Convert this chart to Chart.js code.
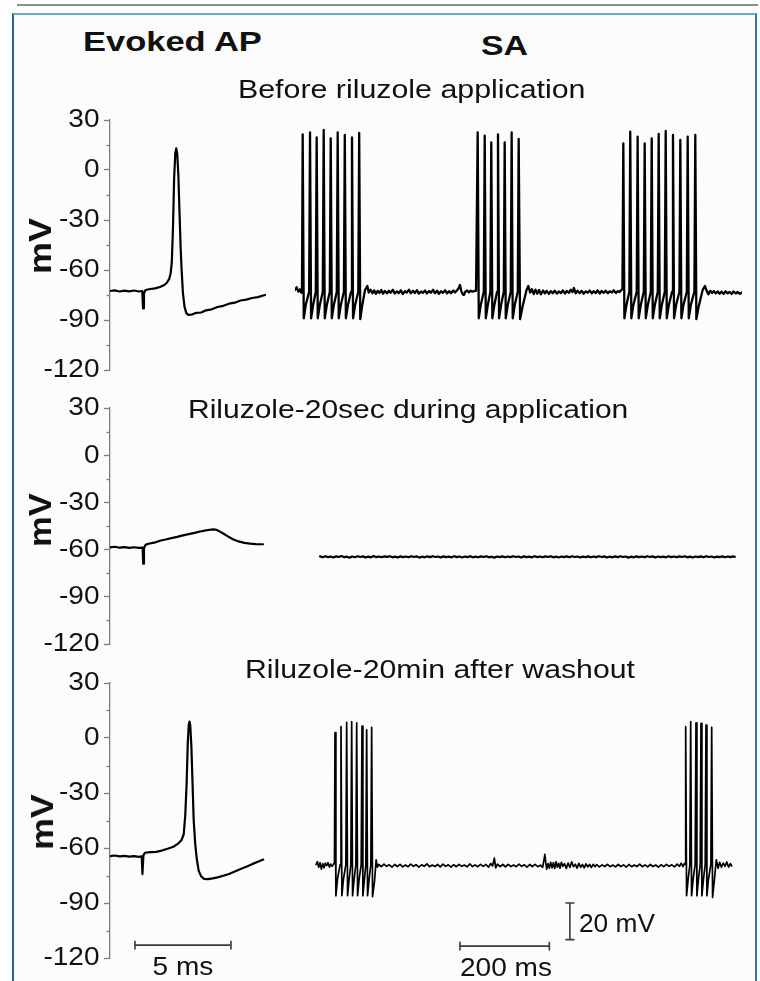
<!DOCTYPE html>
<html>
<head>
<meta charset="utf-8">
<title>Evoked AP and SA - riluzole</title>
<script src="https://cdn.jsdelivr.net/npm/chart.js@4.4.1/dist/chart.umd.min.js"></script>
<style>
  html, body { margin: 0; padding: 0; background: #fff; }
  body {
    width: 760px; height: 981px; position: relative; overflow: hidden;
    font-family: "Liberation Sans", Arial, sans-serif; color: #111;
  }
  .rule { position: absolute; left: 17px; top: 4px; width: 741px; height: 2px; background: #8c8c8c; }
  .frame {
    position: absolute; left: 12px; top: 13px; width: 741px; height: 990px;
    border-top: 2px solid #7aa5c1; border-left: 2px solid #236391; border-right: 2px solid #2f73a6;
    background: #fcfcfc;
  }
  canvas { position: absolute; }
  .txt { position: absolute; white-space: nowrap; line-height: 1; transform-origin: 0 0; z-index: 2; }
  .bold { font-weight: bold; }
  .ylab { position: absolute; white-space: nowrap; line-height: 1; font-weight: bold; font-size: 32px; z-index: 2; }
</style>
</head>
<body>
<div class="rule"></div>
<div class="frame"></div>

<div class="txt bold" style="left:83px;top:27px;font-size:28.5px;transform:scaleX(1.21)">Evoked AP</div>
<div class="txt bold" style="left:481px;top:31px;font-size:28.5px;transform:scaleX(1.19)">SA</div>

<div class="txt" style="left:238px;top:76.5px;font-size:25.5px;transform:scaleX(1.19)">Before riluzole application</div>
<div class="txt" style="left:188px;top:397px;font-size:25px;transform:scaleX(1.2)">Riluzole-20sec during application</div>
<div class="txt" style="left:245px;top:656.5px;font-size:25.5px;transform:scaleX(1.186)">Riluzole-20min after washout</div>

<div class="ylab" style="left:40px;top:246px;transform:translate(-50%,-50%) rotate(-90deg) scaleX(1.12)">mV</div>
<div class="ylab" style="left:40px;top:520px;transform:translate(-50%,-50%) rotate(-90deg) scaleX(1.08)">mV</div>
<div class="ylab" style="left:42px;top:822px;transform:translate(-50%,-50%) rotate(-90deg) scaleX(1.12)">mV</div>

<div class="txt" style="left:182.5px;top:953.5px;font-size:25.5px;transform:scaleX(1.1) translateX(-50%)">5 ms</div>
<div class="txt" style="left:506px;top:954.5px;font-size:25.5px;transform:scaleX(1.1) translateX(-50%)">200 ms</div>
<div class="txt" style="left:579px;top:911px;font-size:25.5px;transform:scaleX(1.03)">20 mV</div>

<script>
// ---------- data (time in ms, membrane potential in mV) ----------

const yMajorTicks = [30, 0, -30, -60, -90, -120];
const yMinorTicks = [15, -15, -45, -75, -105];

// Evoked action potentials (left column)
const evokedBefore = [
  [0, -72.6], [0.25, -72.2], [0.5, -72.9], [0.75, -72.4], [1.0, -72.8], [1.25, -72.3], [1.5, -72.9],
  [1.68, -72.6], [1.72, -83], [1.77, -74], [1.85, -72], [2.1, -71.4], [2.35, -71.0], [2.6, -70.2],
  [2.8, -69.2], [2.95, -67.8], [3.08, -65.5], [3.16, -62], [3.22, -55], [3.28, -35], [3.34, -5],
  [3.4, 10], [3.45, 13], [3.5, 10], [3.56, -3], [3.62, -25], [3.68, -47], [3.73, -60], [3.8, -74],
  [3.88, -82], [3.98, -86], [4.1, -87], [4.3, -86.6], [4.5, -85.7], [4.75, -85.5], [5.0, -84.2],
  [5.3, -83.6], [5.6, -82.2], [5.9, -81.5], [6.2, -80.2], [6.5, -79.6], [6.8, -78.3], [7.1, -77.8],
  [7.4, -76.8], [7.7, -76.3], [8.07, -75],
];

const evokedDuring = [
  [0, -58.6], [0.25, -58.2], [0.5, -58.8], [0.75, -58.4], [1.0, -58.9], [1.25, -58.5], [1.5, -58.9],
  [1.7, -58.7], [1.73, -69], [1.77, -59], [1.85, -57], [2.0, -56.3], [2.3, -55.6], [2.6, -54.4],
  [2.9, -53.6], [3.2, -52.7], [3.5, -51.9], [3.8, -51], [4.1, -50.2], [4.4, -49.4], [4.7, -48.5],
  [5.0, -47.8], [5.3, -47.2], [5.5, -47.3], [5.7, -48.4], [5.9, -49.8], [6.1, -51.3], [6.4, -53.4],
  [6.7, -54.8], [7.0, -55.7], [7.3, -56.2], [7.6, -56.5], [7.97, -56.6],
];

const evokedWashout = [
  [0, -64.4], [0.25, -64.1], [0.5, -64.6], [0.75, -64.3], [1.0, -64.7], [1.25, -64.4], [1.5, -64.8],
  [1.65, -64.6], [1.69, -74.2], [1.74, -64], [1.82, -62.6], [2.1, -62.3], [2.4, -62.1], [2.7, -61.4],
  [3.0, -60.4], [3.3, -59.3], [3.55, -57.6], [3.73, -55.6], [3.84, -52.5], [3.92, -42], [3.99, -25],
  [4.05, -3], [4.1, 7], [4.14, 9], [4.18, 7], [4.24, -5], [4.3, -25], [4.36, -45], [4.44, -58],
  [4.52, -66], [4.62, -72.5], [4.75, -75.5], [4.9, -76.8], [5.1, -77], [5.35, -76.6], [5.6, -76],
  [5.9, -75.1], [6.2, -74.2], [6.5, -72.8], [6.8, -71.5], [7.1, -70.2], [7.4, -68.8], [7.7, -67.5],
  [7.98, -66.3],
];

// Spontaneous activity (right column)
const saBefore = [
  [0, -72], [3.7, -70.4], [7.5, -73], [11.2, -71.6], [14, -73.5], [15.6, -73],
  [17.2, 21.4], [19.6, -89], [24, -81], [31.6, -73],
  [33.6, 22.6], [36, -89], [40.5, -81], [46.5, -73],
  [48.5, 19.6], [50.9, -89], [55.5, -81], [62.2, -73],
  [64.2, 24], [66.6, -89], [71.2, -81], [77.9, -73],
  [79.9, 19], [82.3, -89], [86.9, -81], [93.5, -73],
  [95.5, 22.6], [97.9, -89], [102.5, -81], [109.4, -73],
  [111.4, 21], [113.8, -89], [118.4, -81], [125.5, -73],
  [127.5, 19.6], [129.9, -89], [134.5, -81], [141.6, -73],
  [143.6, 22.2], [146, -89.5], [150, -82], [156.6, -72], [161.8, -69.6], [165, -73.5],
  [169, -71.8], [173, -74], [177, -72.2], [181, -74.3], [185, -72.5], [189, -73.8], [193, -72],
  [197, -74.2], [201, -72.6], [206, -74], [210, -72.4], [214, -73.6], [219, -71.9], [223, -74.1],
  [228, -72.8], [232, -73.9], [237, -72.2], [241, -74.4], [246, -72.7], [250, -73.5], [255, -71.8],
  [259, -74], [264, -72.5], [268, -73.8], [273, -72.1], [277, -74.2], [282, -72.9], [286, -73.7],
  [291, -72.3], [295, -74.1], [300, -72.6], [304, -73.6], [309, -71.9], [313, -73.9], [318, -72.4],
  [322, -74.3], [327, -72.8], [331, -73.7], [336, -72.2], [340, -74], [345, -72.7], [349, -73.9],
  [354, -72.3], [358, -73.5], [363, -72], [366, -71], [369, -69], [372, -72.5], [375, -74.5],
  [378, -75], [381, -73], [385, -72.3], [389, -73.4], [393, -72.4], [397, -73], [401, -72.6],
  [405, -72.5], [406.7, -72.5],
  [408.7, 22.6], [411.1, -89], [415.5, -81], [422.4, -73],
  [424.4, 20.6], [426.8, -89], [431.3, -81], [437.1, -73],
  [439.1, 16.6], [441.5, -89], [446, -81], [452.1, -73],
  [454.1, 21.4], [456.5, -89], [461, -81], [467.1, -73],
  [469.1, 16.6], [471.5, -89], [476, -81], [482.7, -73],
  [484.7, 22.6], [487.1, -89], [491.6, -81], [498.4, -73],
  [500.4, 18.6], [503.5, -89.5], [509, -82], [518, -72], [522, -69.6], [526, -73.5],
  [530, -71.5], [534, -74.5], [538, -71.8], [542, -74.2], [546, -72], [550, -74.6], [555, -72.3],
  [559, -74], [563, -72.5], [568, -74.3], [572, -72.7], [577, -73.9], [581, -72.4], [586, -74.2],
  [590, -72.9], [595, -73.8], [599, -72.3], [604, -74.1], [608, -72.6], [613, -73.7], [617, -71.8],
  [621, -73.2], [624, -70.8], [628, -74], [632, -72.4], [637, -73.9], [641, -72.5], [646, -74.2],
  [650, -72.8], [655, -73.6], [659, -72.3], [664, -74], [668, -72.7], [673, -73.8], [677, -72.2],
  [682, -74.1], [686, -72.6], [691, -73.7], [695, -72.4], [700, -73.9], [704, -72.8], [709, -73.5],
  [713, -72.2], [718, -73.8], [722, -72.7], [726, -73.2], [730, -72], [732.5, -71.5],
  [734.5, 16], [736.9, -89], [741.5, -81], [748, -73],
  [750, 23], [752.4, -89], [757, -81], [764.5, -73],
  [766.5, 20], [768.9, -89], [773.5, -81], [780.3, -73],
  [782.3, 16], [784.7, -89], [789.3, -81], [796, -73],
  [798, 19], [800.4, -89], [805, -81], [811.6, -73],
  [813.6, 21.6], [816, -89], [820.6, -81], [827.3, -73],
  [829.3, 23.4], [831.7, -89], [836.3, -81], [843.6, -73],
  [845.6, 21], [848, -89], [852.6, -81], [860, -73],
  [862, 18], [864.4, -89], [869, -81], [876.5, -73],
  [878.5, 20], [880.9, -89], [885.5, -81], [893.5, -73],
  [895.5, 21], [897.9, -89.5], [903, -82], [912, -72], [917, -69.6], [921, -72.5], [924.6, -74.6],
  [929, -72.5], [933, -73.8], [937, -72.6], [941, -74], [946, -72.9], [950, -74.2], [954, -73],
  [959, -74.3], [963, -72.8], [968, -74], [972, -73.1], [977, -74.4], [981, -72.9], [986, -74.1],
  [990, -73.2], [995, -74.3], [1000, -73.5],
];

const saDuring = [
  [56, -64.3], [62, -64.9], [68, -64.2], [74, -64.8], [80, -64.4], [86, -65], [92, -64.3], [98, -64.7],
  [104, -64.1], [110, -64.8], [116, -64.5], [122, -65.1], [128, -64.4], [134, -64.9], [140, -64.2],
  [146, -64.7], [152, -64.3], [158, -65], [164, -64.5], [170, -64.9], [176, -64.1], [182, -64.8],
  [188, -64.4], [194, -64.9], [200, -64.3], [206, -64.6], [212, -64.2], [218, -64.9], [224, -64.5],
  [230, -65], [236, -64.3], [242, -64.8], [248, -64.4], [254, -64.9], [260, -64.2], [266, -64.7],
  [272, -64.3], [278, -65.1], [284, -64.5], [290, -64.9], [296, -64.3], [302, -64.8], [308, -64.2],
  [314, -64.7], [320, -64.4], [326, -65], [332, -64.3], [338, -64.8], [344, -64.5], [350, -64.9],
  [356, -64.2], [362, -64.8], [368, -64.4], [374, -65], [380, -64.4], [386, -64.8], [392, -64.2],
  [398, -64.9], [404, -64.5], [410, -64.9], [416, -64.3], [422, -64.7], [428, -64.2], [434, -64.9],
  [440, -64.5], [446, -65.1], [452, -64.4], [458, -64.8], [464, -64.3], [470, -64.9], [476, -64.4],
  [482, -64.8], [488, -64.2], [494, -64.7], [500, -64.4], [506, -65], [512, -64.3], [518, -64.8],
  [524, -64.5], [530, -64.9], [536, -64.2], [542, -64.8], [548, -64.4], [554, -64.9], [560, -64.3],
  [566, -64.7], [572, -64.2], [578, -64.9], [584, -64.5], [590, -65], [596, -64.4], [602, -64.8],
  [608, -64.3], [614, -64.9], [620, -64.2], [626, -64.7], [632, -64.4], [638, -65], [644, -64.5],
  [650, -64.8], [656, -64.3], [662, -64.9], [668, -64.4], [674, -64.8], [680, -64.2], [686, -64.7],
  [692, -64.3], [698, -65], [704, -64.5], [710, -64.9], [716, -64.3], [722, -64.8], [728, -64.2],
  [734, -64.7], [740, -64.4], [746, -65.1], [752, -64.5], [758, -64.9], [764, -64.3], [770, -64.8],
  [776, -64.4], [782, -64.9], [788, -64.2], [794, -64.7], [800, -64.3], [806, -65], [812, -64.4],
  [818, -64.8], [824, -64.5], [830, -64.9], [836, -64.2], [842, -64.8], [848, -64.4], [854, -64.9],
  [860, -64.3], [866, -64.7], [872, -64.2], [878, -64.9], [884, -64.5], [890, -65], [896, -64.4],
  [902, -64.8], [908, -64.3], [914, -64.9], [920, -64.2], [926, -64.7], [932, -64.4], [938, -65],
  [944, -64.5], [950, -64.8], [956, -64.3], [962, -64.9], [968, -64.4], [974, -64.8], [980, -64.3],
  [984, -64.6],
];

const saWashout = [
  [47, -69], [50, -67.5], [53, -70.5], [56, -68], [59, -71.5], [62, -68.5], [65, -70.8], [68, -68.2],
  [71, -69.6], [74, -68], [77, -70.4], [80, -68.8], [83, -70], [86, -69], [88.3, -68],
  [89.5, 2.9], [91.5, -86], [95, -77], [101.1, -69],
  [102.9, 6.2], [104.9, -86], [108.4, -77], [113.8, -69],
  [115.6, 8.6], [117.6, -86], [121.1, -77], [125, -69],
  [126.8, 8.9], [128.8, -86], [132.3, -77], [136.2, -69],
  [138, 8.3], [140, -86], [143.5, -77], [148.1, -69],
  [149.9, 6.5], [151.9, -86], [155.4, -77], [158.5, -69],
  [160.3, 4.4], [162.3, -86], [165.8, -77], [169.7, -69],
  [171.5, 5.8], [173.5, -86.5], [178, -78], [181.5, -66.5], [184.5, -70.5], [187.5, -69],
  [193, -70.2], [199, -68.8], [205, -70], [211, -69.2], [217, -70.4], [223, -69], [229, -70.1],
  [235, -68.9], [241, -70.3], [247, -69.3], [253, -70.2], [259, -68.8], [265, -70], [271, -69.1],
  [277, -70.4], [283, -69.2], [289, -70], [295, -68.7], [301, -70.2], [307, -69.3], [313, -70.1],
  [319, -69], [325, -70.3], [331, -68.8], [337, -70], [343, -69.2], [349, -70.4], [355, -69.1],
  [361, -70.2], [367, -68.9], [373, -70], [379, -69.3], [385, -70.3], [391, -68.7], [397, -70.1],
  [403, -69.2], [409, -70.2], [415, -68.9], [421, -70], [427, -69], [433, -70.4], [438, -68.5],
  [442, -69.8], [446, -65.5], [449, -70.8], [453, -68.8], [459, -70.2], [465, -69], [471, -70.3],
  [477, -68.9], [483, -70.1], [489, -69.3], [495, -70.2], [501, -68.8], [507, -70], [513, -69.2],
  [519, -70.4], [525, -69], [531, -70.1], [537, -68.9], [543, -70.2], [549, -69.4], [554, -70.5],
  [557, -66.5], [559, -63.5], [561, -68], [563, -71.5], [566, -68.5], [569, -71], [572, -67.8],
  [575, -70.8], [578, -68], [581, -71.2], [584, -67.5], [587, -70.5], [590, -68.4], [593, -71],
  [596, -67.8], [599, -70], [603, -68.6], [607, -71.2], [611, -68.2], [615, -70.6], [619, -67.6],
  [623, -70.2], [627, -68.8], [631, -71], [635, -68.4], [639, -70.5], [643, -69], [647, -70.8],
  [651, -68.7], [655, -70.3], [659, -69], [663, -70.6], [667, -68.9], [671, -70.2], [675, -69.1],
  [681, -70.3], [687, -69.2], [693, -70.1], [699, -68.9], [705, -70.2], [711, -69.3], [717, -70.3],
  [723, -69], [729, -70.1], [735, -69.2], [741, -70.4], [747, -69], [753, -70.2], [759, -69.3],
  [765, -70.1], [771, -68.8], [777, -70.2], [783, -69.2], [789, -70.3], [795, -69], [801, -70.1],
  [807, -69.3], [813, -70.4], [819, -69.1], [825, -70.2], [831, -68.9], [837, -70], [843, -69.2],
  [849, -70.3], [855, -68.8], [860, -70], [864, -68.3], [868, -70.2], [871, -68.5], [872.5, -69],
  [874, 6.2], [876, -86], [879.5, -77], [883.4, -69],
  [885.2, 8.9], [887.2, -86], [890.7, -77], [895.2, -69],
  [897.1, 8.3], [899.1, -86], [902.6, -77], [906.5, -69],
  [908.3, 8], [910.3, -86], [913.8, -77], [917.7, -69],
  [919.5, 7.1], [921.5, -86], [925, -77], [930.4, -69],
  [932.2, 5.8], [934.2, -87], [938, -78], [942.5, -66.4], [946.5, -71], [950, -67.8], [954, -70.5],
  [958, -68.2], [962, -70], [966, -67.6], [970, -70.4], [974, -68.5], [977, -69.8],
];

// Scale bars (ends of each bar, in the units of the axis they sit on)
const bar5ms = [[1.3, -113], [6.3, -113]];
const bar200ms = [[369, -113.5], [569, -113.5]];
const bar20mV = [[615, -90], [615, -110]];

(() => {
  'use strict';

  const AXIS_GRAY = '#7d7d7d';
  const FONT = '"Liberation Sans", Arial, sans-serif';

  // page geometry of each panel: pixel rows of +30 mV and -120 mV
  const panels = [
    { evoked: evokedBefore, sa: saBefore, top: 120, bottom: 370, saWidth: 2.3 },
    { evoked: evokedDuring, sa: saDuring, top: 408, bottom: 644, saWidth: 2.2 },
    { evoked: evokedWashout, sa: saWashout, top: 683, bottom: 958, saWidth: 1.7, bars: true },
  ];

  const EVOKED = { left: 10, axisW: 100, areaW: 156, padR: 6, xMax: 156 / 19.2 };
  const SA = { left: 291, areaW: 447, pad: 4, xMax: 1000 };
  const VPAD = 18;

  const toXY = (arr) => arr.map(([x, y]) => ({ x, y }));

  // horizontal bar with vertical end caps
  function hBar(bar, cap) {
    const [[a, y], [b]] = bar;
    return [
      { x: a, y: y + cap }, { x: a, y: y - cap }, { x: a, y },
      { x: b, y }, { x: b, y: y + cap }, { x: b, y: y - cap },
    ];
  }

  // vertical bar with horizontal end caps
  function vBar(bar, cap) {
    const [[x, a], [, b]] = bar;
    return [
      { x: x - cap, y: a }, { x: x + cap, y: a }, { x, y: a },
      { x, y: b }, { x: x - cap, y: b }, { x: x + cap, y: b },
    ];
  }

  function traceSet(data, width) {
    return {
      data: toXY(data),
      borderColor: '#000',
      borderWidth: width,
      borderJoinStyle: 'round',
      borderCapStyle: 'round',
      pointRadius: 0,
      tension: 0,
    };
  }

  function barSet(points) {
    return {
      data: points,
      borderColor: '#3a3a3a',
      borderWidth: 1.6,
      pointRadius: 0,
      tension: 0,
    };
  }

  // ---------- axis labels and minor ticks ----------

  const axisDecor = {
    id: 'axisDecor',
    afterDraw(chart) {
      const s = chart.scales.y;
      const ctx = chart.ctx;
      const left = chart.chartArea.left;
      ctx.save();
      ctx.strokeStyle = AXIS_GRAY;
      ctx.lineWidth = 1.3;
      for (const v of yMinorTicks) {
        const y = Math.round(s.getPixelForValue(v)) + 0.5;
        ctx.beginPath();
        ctx.moveTo(left - 3.5, y);
        ctx.lineTo(left, y);
        ctx.stroke();
      }
      ctx.fillStyle = '#111';
      ctx.font = '25px ' + FONT;
      ctx.textAlign = 'right';
      ctx.textBaseline = 'middle';
      for (const v of yMajorTicks) {
        const y = s.getPixelForValue(v);
        ctx.save();
        ctx.translate(left - 10.5, y + 0.5);
        ctx.scale(1.12, 1);
        ctx.fillText(String(v), 0, 0);
        ctx.restore();
      }
      ctx.restore();
    },
  };

  function makeCanvas(left, top, w, h) {
    const c = document.createElement('canvas');
    c.width = w;
    c.height = h;
    c.style.left = left + 'px';
    c.style.top = top + 'px';
    document.body.appendChild(c);
    return c;
  }

  function baseOptions(padding) {
    return {
      responsive: false,
      animation: false,
      devicePixelRatio: 1,
      layout: { padding },
      plugins: { legend: { display: false }, tooltip: { enabled: false } },
    };
  }

  function evokedChart(p) {
    const h = p.bottom - p.top + VPAD * 2;
    const w = EVOKED.axisW + EVOKED.areaW + EVOKED.padR;
    const canvas = makeCanvas(EVOKED.left, p.top - VPAD, w, h);
    const datasets = [traceSet(p.evoked, 2.2)];
    if (p.bars) datasets.push(barSet(hBar(bar5ms, 2.4)));
    new Chart(canvas, {
      type: 'line',
      data: { datasets },
      options: {
        ...baseOptions({ top: VPAD, bottom: VPAD, left: 0, right: EVOKED.padR }),
        scales: {
          x: { type: 'linear', min: 0, max: EVOKED.xMax, display: false },
          y: {
            type: 'linear', min: -120, max: 30,
            afterFit: (s) => { s.width = EVOKED.axisW; },
            afterBuildTicks: (s) => { s.ticks = yMajorTicks.map(v => ({ value: v })); },
            ticks: { display: false, autoSkip: false },
            grid: {
              drawOnChartArea: false, drawTicks: true, tickLength: 6,
              color: AXIS_GRAY, tickColor: AXIS_GRAY, tickWidth: 1.3,
            },
            border: { display: true, color: AXIS_GRAY, width: 1.3 },
          },
        },
      },
      plugins: [axisDecor],
    });
  }

  function saChart(p) {
    const h = p.bottom - p.top + VPAD * 2;
    const w = SA.areaW + SA.pad * 2;
    const canvas = makeCanvas(SA.left, p.top - VPAD, w, h);
    const datasets = [traceSet(p.sa, p.saWidth)];
    if (p.bars) {
      datasets.push(barSet(hBar(bar200ms, 2.4)));
      datasets.push(barSet(vBar(bar20mV, 10)));
    }
    new Chart(canvas, {
      type: 'line',
      data: { datasets },
      options: {
        ...baseOptions({ top: VPAD, bottom: VPAD, left: SA.pad, right: SA.pad }),
        scales: {
          x: { type: 'linear', min: 0, max: SA.xMax, display: false },
          y: { type: 'linear', min: -120, max: 30, display: false },
        },
      },
    });
  }

  panels.forEach(p => {
    evokedChart(p);
    saChart(p);
  });
})();
</script>
</body>
</html>
